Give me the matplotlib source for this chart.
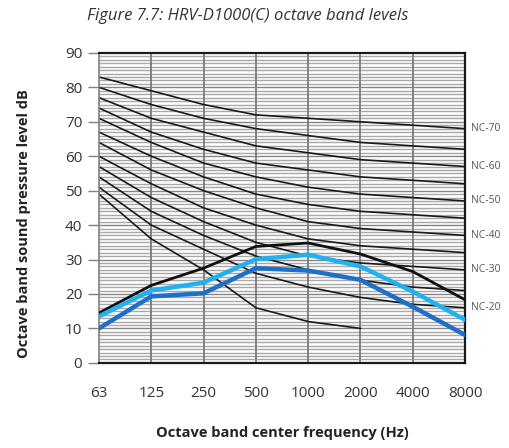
import matplotlib.pyplot as plt
import numpy as np

bands = ['63', '125', '250', '500', '1000', '2000', '4000', '8000']

# NC reference curves (dB per octave band)
nc_curves = {
    'NC-70': [83, 79, 75, 72, 71, 70, 69, 68],
    'NC-65': [80, 75, 71, 68, 66, 64, 63, 62],
    'NC-60': [77, 71, 67, 63, 61, 59, 58, 57],
    'NC-55': [74, 67, 62, 58, 56, 54, 53, 52],
    'NC-50': [71, 64, 58, 54, 51, 49, 48, 47],
    'NC-45': [67, 60, 54, 49, 46, 44, 43, 42],
    'NC-40': [64, 56, 50, 45, 41, 39, 38, 37],
    'NC-35': [60, 52, 45, 40, 36, 34, 33, 32],
    'NC-30': [57, 48, 41, 35, 31, 29, 28, 27],
    'NC-25': [54, 44, 37, 31, 27, 24, 22, 21],
    'NC-20': [51, 40, 33, 26, 22, 19, 17, 16],
}
nc_labelled = ['NC-70', 'NC-60', 'NC-50', 'NC-40', 'NC-30', 'NC-20']
threshold = [49, 36, 27, 16, 12, 10]

measured_black = [14.5, 22.5, 27.5, 33.8, 34.8, 31.6, 26.5, 18.3]
measured_light = [13.5, 21.0, 23.3, 30.1, 31.4, 28.0, 20.7, 12.5]
measured_dark = [10.0, 19.3, 20.2, 27.5, 26.8, 24.1, 16.3, 8.1]

plt.rcParams['font.family'] = ['Open Sans', 'DejaVu Sans']

fig = plt.figure(figsize=(5.1, 4.48), dpi=100)
ax = fig.add_axes([0.194, 0.19, 0.718, 0.692])
x = np.arange(len(bands))

# hatched background grid
for yv in np.arange(1, 90):
    if yv % 10 == 0:
        continue
    ax.axhline(yv, color='#a8a8a8', lw=1.0, zorder=0)
for yv in np.arange(10, 90, 10):
    ax.axhline(yv, color='#858585', lw=1.0, zorder=0)
for xv in x[1:-1]:
    ax.axvline(xv, color='#7a7a7a', lw=1.3, zorder=0.5)

for name, vals in nc_curves.items():
    ax.plot(x, vals, color='#1a1a1a', lw=1.2, zorder=2)
    if name in nc_labelled:
        ax.text(x[-1] + 0.12, vals[-1], name, fontsize=7.5, color='#555555',
                va='center', ha='left', clip_on=False)
ax.plot(x[:len(threshold)], threshold, color='#1a1a1a', lw=1.2, zorder=2)

ax.plot(x, measured_black, color='#111111', lw=2.0, zorder=3)
ax.plot(x, measured_light, color='#21b0f0', lw=3.2, zorder=4)
ax.plot(x, measured_dark, color='#1f6fc8', lw=3.2, zorder=4)

ax.set_xlim(0, len(bands) - 1)
ax.set_ylim(0, 90)
ax.set_yticks(np.arange(0, 91, 10))
ax.set_xticks(x)
ax.set_xticklabels(bands)
ax.tick_params(axis='x', length=0, pad=17, labelsize=11, colors='#333333')
ax.tick_params(axis='y', length=8, width=1, color='#808080', labelsize=11,
               pad=4)
for tl in ax.get_yticklabels():
    tl.set_color('#333333')

ax.spines['left'].set_color('#808080')
ax.spines['left'].set_linewidth(1.2)
for s in ['top', 'right', 'bottom']:
    ax.spines[s].set_color('#1a1a1a')
    ax.spines[s].set_linewidth(1.6)

ax.set_xlabel('Octave band center frequency (Hz)', fontsize=10.5,
              fontweight='bold', labelpad=18, color='#222222')
ax.set_ylabel('Octave band sound pressure level dB', fontsize=10.5,
              fontweight='bold', color='#222222')
ax.yaxis.set_label_coords(-0.185, 0.45)
fig.text(0.485, 0.965, 'Figure 7.7: HRV-D1000(C) octave band levels',
         fontsize=12, style='italic', ha='center', va='center', color='#333333')

fig.savefig('out.png', dpi=100)
